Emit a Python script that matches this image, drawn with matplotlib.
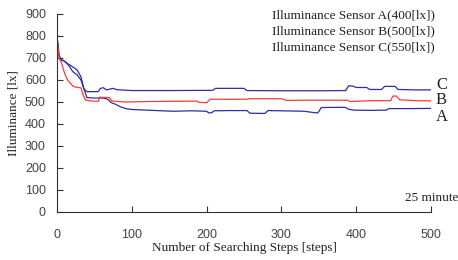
import matplotlib
matplotlib.use("Agg")
import matplotlib.pyplot as plt

# Sensor A (target 400 lx) - bottom blue
a_steps = [0, 3, 7, 12, 17, 21, 27, 32, 36, 40, 50, 62, 68, 72, 78, 85, 92, 100, 120, 140, 155, 180, 200, 203, 207, 210, 230, 254, 258, 278, 282, 300, 330, 348, 350, 353, 356, 385, 390, 397, 420, 440, 444, 470, 500]
a_vals = [800, 705, 690, 680, 660, 638, 623, 600, 560, 520, 518, 518, 512, 498, 490, 478, 470, 466, 463, 460, 458, 460, 458, 450, 452, 460, 461, 461, 449, 448, 461, 460, 458, 450, 456, 474, 475, 476, 467, 463, 462, 463, 470, 470, 471]

# Sensor B (target 500 lx) - red
b_steps = [0, 3, 6, 10, 14, 22, 32, 35, 38, 45, 55, 57, 70, 73, 90, 120, 150, 187, 190, 200, 205, 230, 254, 258, 300, 307, 330, 360, 388, 392, 420, 446, 449, 454, 458, 480, 500]
b_vals = [782, 700, 677, 632, 600, 570, 564, 532, 509, 505, 503, 522, 520, 505, 500, 502, 503, 504, 498, 497, 513, 512, 513, 515, 515, 507, 508, 508, 508, 502, 506, 506, 527, 527, 510, 506, 505]

# Sensor C (target 550 lx) - top blue
c_steps = [0, 2, 5, 9, 14, 21, 27, 32, 36, 40, 55, 58, 62, 66, 75, 80, 100, 150, 208, 212, 250, 254, 300, 350, 386, 390, 396, 400, 414, 418, 434, 438, 452, 456, 480, 500]
c_vals = [805, 723, 691, 688, 675, 660, 645, 615, 560, 547, 547, 562, 565, 555, 562, 556, 552, 552, 553, 562, 562, 552, 551, 551, 552, 574, 572, 566, 566, 557, 557, 571, 571, 557, 555, 555]

x_ticks = [0, 100, 200, 300, 400, 500]
y_ticks = [0, 100, 200, 300, 400, 500, 600, 700, 800, 900]
legend_lines = ["Illuminance Sensor A(400[lx])",
                "Illuminance Sensor B(500[lx])",
                "Illuminance Sensor C(550[lx])"]
end_labels = ["C", "B", "A"]

blue = "#2e2e9e"
red = "#ff3a3a"
serif = ["Liberation Serif", "DejaVu Serif"]
sans = ["Liberation Sans", "DejaVu Sans"]

fig = plt.figure(figsize=(4.58, 2.6), dpi=100)
ax = fig.add_axes([57/458, 1-212/260, (431-57)/458, (212-14)/260])

ax.plot(a_steps, a_vals, color=blue, lw=0.9)
ax.plot(c_steps, c_vals, color=blue, lw=0.9)
ax.plot(b_steps, b_vals, color=red, lw=0.9)

ax.set_xlim(0, 500)
ax.set_ylim(0, 900)
ax.set_xticks(x_ticks)
ax.set_yticks(y_ticks)
for s in ["top", "right"]:
    ax.spines[s].set_visible(False)
for s in ["left", "bottom"]:
    ax.spines[s].set_color("#333333")
    ax.spines[s].set_linewidth(0.8)
ax.tick_params(direction="in", length=4, width=0.8, color="#333333",
               labelsize=9, labelcolor="#444444")
ax.tick_params(axis="x", pad=12)
ax.tick_params(axis="y", pad=8)
for lab in ax.get_xticklabels() + ax.get_yticklabels():
    lab.set_family(sans)

ax.set_xlabel("Number of Searching Steps [steps]", family=serif, fontsize=9.5,
              color="#222222", labelpad=1)
ax.set_ylabel("Illuminance [lx]", family=serif, fontsize=9.5, color="#222222",
              labelpad=4)

for i, t in enumerate(legend_lines):
    fig.text(272/458, 1-(15+16*i)/260, t, family=serif, fontsize=9.5,
             color="#222222", ha="left", va="center")

for t, yp in zip(end_labels, [85, 100, 117]):
    fig.text(436/458, 1-yp/260, t, family=serif, fontsize=12, color="#222222",
             ha="left", va="center")

fig.text(405/458, 1-198/260, "25 minute", family=serif, fontsize=9.5,
         color="#222222", ha="left", va="center")

fig.savefig("out.png", dpi=100)
